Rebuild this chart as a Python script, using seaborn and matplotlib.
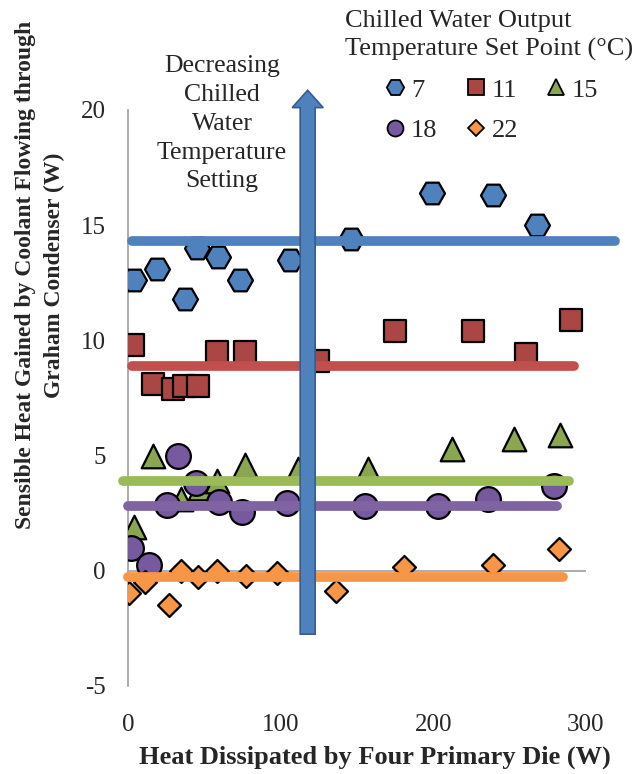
import matplotlib
matplotlib.use("Agg")
import matplotlib.pyplot as plt
from matplotlib.lines import Line2D
from matplotlib.patches import FancyArrow
import numpy as np
import pandas as pd
import seaborn as sns

# chilled water set points (deg C)
setpoints = ["7", "11", "15", "18", "22"]

x_7 = [3.9, 19, 37.4, 45.2, 59, 73.4, 106, 146, 199, 239, 268]
y_7 = [12.6, 13.1, 11.8, 14.0, 13.6, 12.6, 13.5, 14.4, 16.4, 16.3, 15.0]
x_11 = [3.3, 16.4, 29.5, 36.7, 45.9, 58.4, 76.7, 124.6, 175, 226, 261, 290.5]
y_11 = [9.8, 8.1, 7.9, 8.0, 8.0, 9.5, 9.5, 9.1, 10.4, 10.4, 9.4, 10.9]
x_15 = [3.9, 16.4, 34.8, 47, 58.4, 76.7, 111.5, 157, 212, 253, 283]
y_15 = [1.9, 5.0, 3.1, 3.6, 3.9, 4.6, 4.4, 4.4, 5.3, 5.7, 5.9]
x_18 = [2, 13.8, 25.6, 32.8, 44.6, 59.7, 74.8, 104, 155, 203, 236, 279]
y_18 = [1.0, 0.26, 2.87, 4.96, 3.83, 3.0, 2.57, 2.96, 2.83, 2.83, 3.13, 3.7]
x_22 = [0.7, 11, 27, 34.8, 46, 58.4, 77.4, 97.7, 136.4, 181, 239.3, 282.6]
y_22 = [-0.96, -0.48, -1.48, 0.0, -0.26, 0.0, -0.22, -0.1, -0.87, 0.17, 0.26, 0.96]

# average level lines: level, start x, end x
avg_level = [14.3, 8.9, 3.9, 2.8, -0.26]
avg_start = [2.6, 2.6, -3, 0, 0]
avg_end = [319, 292, 289, 281, 285]

xs = [x_7, x_11, x_15, x_18, x_22]
ys = [y_7, y_11, y_15, y_18, y_22]
markers = ["H", "s", "^", "o", "D"]
msize = [324, 243, 289, 317, 137]
leg_size = [12.5, 11, 11.5, 11.5, 8]
fill = ["#4F81BD", "#AA4643", "#8BA650", "#76599F", "#F79646"]
line_col = ["#4F81BD", "#C0504D", "#9BBB59", "#8064A2", "#F79646"]

sns.set_style("white")
plt.rcParams["font.family"] = ["Liberation Serif", "DejaVu Serif"]
plt.rcParams["axes.unicode_minus"] = False

fig = plt.figure(figsize=(6.39, 7.74), dpi=100)
ax = fig.add_axes([0.2003, 0.1137, 0.7167, 0.7443])

for i, sp in enumerate(setpoints):
    df = pd.DataFrame({"x": xs[i], "y": ys[i]})
    sns.scatterplot(data=df, x="x", y="y", marker=markers[i], s=msize[i],
                    color=fill[i], edgecolor="black", linewidth=1.6,
                    zorder=3, ax=ax, legend=False)

for i in range(len(setpoints)):
    ax.plot([avg_start[i], avg_end[i]], [avg_level[i], avg_level[i]],
            color=line_col[i], lw=7, solid_capstyle="round", zorder=4,
            clip_on=False)

# x axis drawn at y = 0
ax.axhline(0, color="#A6A6A6", lw=1.3, zorder=1)

# arrow
arrow = FancyArrow(117.7, -2.75, 0, 23.6, width=9.8, head_width=20.3,
                   head_length=0.75, length_includes_head=True,
                   facecolor="#4F81BD", edgecolor="#385D8A", lw=1.2,
                   zorder=6, clip_on=False)
ax.add_patch(arrow)

ax.text(61.6, 19.4, "Decreasing\nChilled\nWater\nTemperature\nSetting",
        ha="center", va="center", ma="center", fontsize=18.5,
        linespacing=1.4, zorder=7, clip_on=False)

ax.set_xlim(0, 300)
ax.set_ylim(-5, 20)
ax.set_xticks([0, 100, 200, 300])
ax.set_yticks([-5, 0, 5, 10, 15, 20])
ax.tick_params(length=0, labelsize=18)
ax.tick_params(axis="x", pad=20)
ax.tick_params(axis="y", pad=16)
for s in ["top", "right", "bottom"]:
    ax.spines[s].set_visible(False)
ax.spines["left"].set_color("#A6A6A6")
ax.spines["left"].set_linewidth(1.3)

ax.set_xlabel("Heat Dissipated by Four Primary Die (W)", fontsize=19,
              fontweight="bold")
ax.xaxis.label.set_va("center")
ax.xaxis.set_label_coords(0.538, -0.123)
ax.set_ylabel("Sensible Heat Gained by Coolant Flowing through\nGraham Condenser (W)",
              fontsize=17, fontweight="bold", linespacing=1.5)
ax.yaxis.label.set_va("center")
ax.yaxis.label.set_ha("center")
ax.yaxis.set_label_coords(-0.192, 0.713)

handles = []
for i, sp in enumerate(setpoints):
    handles.append(Line2D([], [], ls="none", marker=markers[i],
                          markersize=leg_size[i], markerfacecolor=fill[i],
                          markeredgecolor="black", markeredgewidth=1.3,
                          label=sp))
order = [0, 3, 1, 4, 2]
leg = fig.legend([handles[k] for k in order], [setpoints[k] for k in order],
                 ncol=3, loc="upper center", bbox_to_anchor=(0.765, 1.018),
                 frameon=False, fontsize=19, title_fontsize=19,
                 title="Chilled Water Output\nTemperature Set Point (\u00b0C)",
                 handletextpad=0.0, columnspacing=0.85, labelspacing=0.65,
                 handlelength=1.2)
leg.get_title().set_linespacing(1.35)
leg._legend_box.align = "center"

fig.savefig("out.png", dpi=100)
